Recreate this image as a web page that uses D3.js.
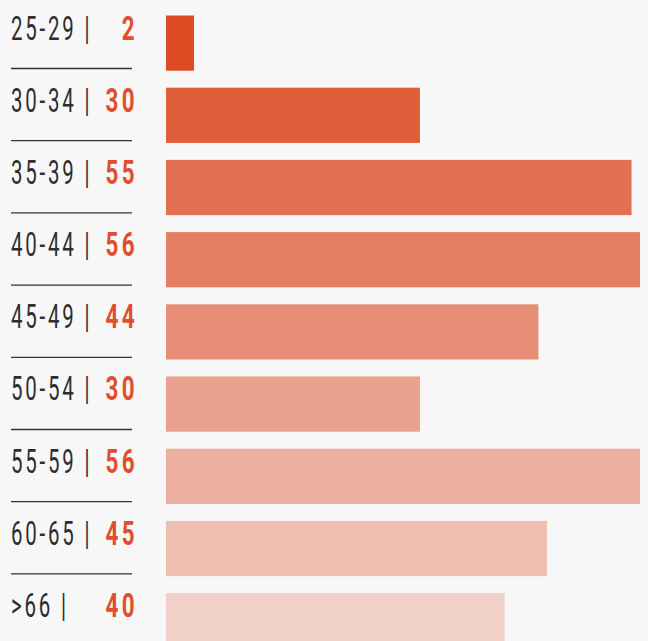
<!DOCTYPE html>
<html>
<head>
<meta charset="utf-8">
<script src="https://cdn.jsdelivr.net/npm/d3@7"></script>
<style>
  html, body { margin: 0; padding: 0; background: #f7f7f7; overflow: hidden; }
  svg { display: block; }
</style>
</head>
<body>
<div id="chart"></div>
<script>
// age groups and head counts
const ageGroups = ['25-29', '30-34', '35-39', '40-44', '45-49', '50-54', '55-59', '60-65', '>66'];
const counts    = [2, 30, 55, 56, 44, 30, 56, 45, 40];
const shade     = [1, 0.9, 0.79, 0.7, 0.61, 0.5, 0.42, 0.33, 0.22];

const width = 648, height = 641;
const barX = 166;
const font = 'Roboto, "DejaVu Sans", sans-serif';

const svg = d3.select('#chart').append('svg')
  .attr('width', width).attr('height', height);

const y = d3.scaleBand()
  .domain(ageGroups)
  .range([15.5, 648.3])
  .paddingInner(0.235);

const x = d3.scaleLinear().domain([0, 56]).range([0, 474]);

const rows = ageGroups.map((g, i) => ({ g, v: counts[i], o: shade[i], i }));

// bars
svg.append('g').selectAll('rect').data(rows).join('rect')
  .attr('x', barX)
  .attr('y', d => y(d.g))
  .attr('width', d => Math.max(x(d.v), 28))
  .attr('height', y.bandwidth())
  .attr('fill', '#dd4b25')
  .attr('fill-opacity', d => d.o);

// labels (horizontally squeezed to fake a condensed face)
const lab = svg.append('g').selectAll('g').data(rows).join('g')
  .attr('transform', d => `translate(0,${y(d.g)})`);

lab.append('g')
  .attr('transform', 'translate(11,24) scale(0.62,1)')
  .append('text')
  .attr('font-family', font)
  .attr('font-size', 33)
  .attr('font-weight', 400)
  .attr('letter-spacing', 4.5)
  .attr('fill', '#2e2e2e')
  .text(d => `${d.g} |`);

lab.append('g')
  .attr('transform', 'translate(138,24) scale(0.68,1)')
  .append('text')
  .attr('text-anchor', 'end')
  .attr('font-family', font)
  .attr('font-size', 33)
  .attr('font-weight', 'bold')
  .attr('letter-spacing', 5)
  .attr('fill', '#e04e2d')
  .text(d => d.v);

// separator rules between rows
lab.filter(d => d.i < rows.length - 1).append('line')
  .attr('x1', 11).attr('x2', 132)
  .attr('y1', 53).attr('y2', 53)
  .attr('stroke', '#333').attr('stroke-width', 1.3);
</script>
</body>
</html>
